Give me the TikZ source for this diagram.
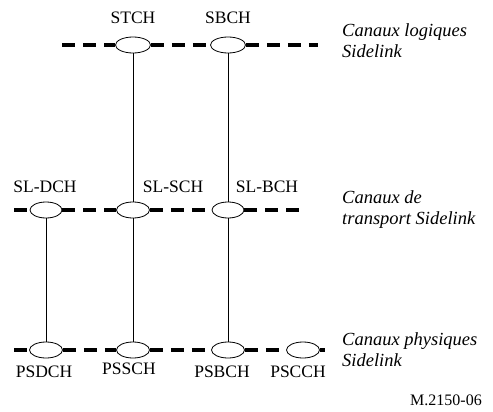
\documentclass[tikz,border=0pt]{standalone}
\usepackage{fontspec}
\setmainfont{Liberation Serif}
\usetikzlibrary{shapes,positioning}

\tikzset{
  chan/.style={ellipse, draw, fill=white, line width=0.8pt, minimum width=35pt, minimum height=16pt, inner sep=0pt},
  bus/.style={line width=3.2pt, dash pattern=on 13pt off 8pt},
  link/.style={line width=0.8pt},
  lbl/.style={font=\fontsize{17.5}{20}\selectfont, inner sep=0pt, anchor=base},
  side/.style={font=\fontsize{18.5}{21}\selectfont\itshape, align=left, inner sep=0pt, anchor=base west},
}

\begin{document}
\begin{tikzpicture}[x=1pt, y=-1pt]
  \useasboundingbox (0,0) rectangle (493,412);

  % nodes

  %logical
  \node[chan] (stch) at (133,45) {};
  \node[chan] (sbch) at (228,45) {};
  \coordinate (logstart) at (62,45);
  \coordinate (logend) at (318,45);

  %transport
  \node[chan, minimum width=32pt] (sldch) at (46,210) {};
  \node[chan, minimum width=33pt] (slsch) at (133,210) {};
  \node[chan, minimum width=32pt] (slbch) at (228,210) {};
  \coordinate (trstart) at (14,210);
  \coordinate (trend) at (302,210);

  %physical
  \node[chan, minimum width=33pt] (psdch) at (46,350) {};
  \node[chan, minimum width=33pt] (pssch) at (133,350) {};
  \node[chan, minimum width=33pt] (psbch) at (228,350) {};
  \node[chan, minimum width=33pt] (pscch) at (303,350) {};
  \coordinate (phstart) at (14,350);
  \coordinate (phend) at (325,350);

  % labels
  \node[lbl] (stchlbl) at (133,24) {STCH};
  \node[lbl] (sbchlbl) at (228,24) {SBCH};
  \node[lbl] (sldchlbl) at (45,192) {SL-DCH};
  \node[lbl] (slschlbl) at (173,192) {SL-SCH};
  \node[lbl] (slbchlbl) at (267,192) {SL-BCH};
  \node[lbl] (psdchlbl) at (44,377) {PSDCH};
  \node[lbl] (psschlbl) at (129,374) {PSSCH};
  \node[lbl] (psbchlbl) at (222,377) {PSBCH};
  \node[lbl] (pscchlbl) at (298,377) {PSCCH};

  % base of a two-line node is the baseline of its last line
  \node[side] (loglbl) at (342,58) {Canaux logiques\\Sidelink};
  \node[side] (trlbl) at (342,224) {Canaux de\\transport Sidelink};
  \node[side] (phlbl) at (342,366) {Canaux physiques\\Sidelink};
  \node[lbl, font=\fontsize{16}{18}\selectfont, anchor=base east] (figref) at (482,405) {M.2150-06};

  % buses
  \draw[bus] (logstart) -- (stch.west);
  \draw[bus] (stch.east) -- (sbch.west);
  \draw[bus] (sbch.east) -- (logend);

  \draw[bus] (trstart) -- (sldch.west);
  \draw[bus] (sldch.east) -- (slsch.west);
  \draw[bus] (slsch.east) -- (slbch.west);
  \draw[bus] (slbch.east) -- (trend);

  \draw[bus] (phstart) -- (psdch.west);
  \draw[bus] (psdch.east) -- (pssch.west);
  \draw[bus] (pssch.east) -- (psbch.west);
  \draw[bus] (psbch.east) -- (pscch.west);
  \draw[bus] (pscch.east) -- (phend);

  % edges
  \draw[link] (stch) -- (slsch);
  \draw[link] (slsch) -- (pssch);
  \draw[link] (sbch) -- (slbch);
  \draw[link] (slbch) -- (psbch);
  \draw[link] (sldch) -- (psdch);

\end{tikzpicture}
\end{document}
